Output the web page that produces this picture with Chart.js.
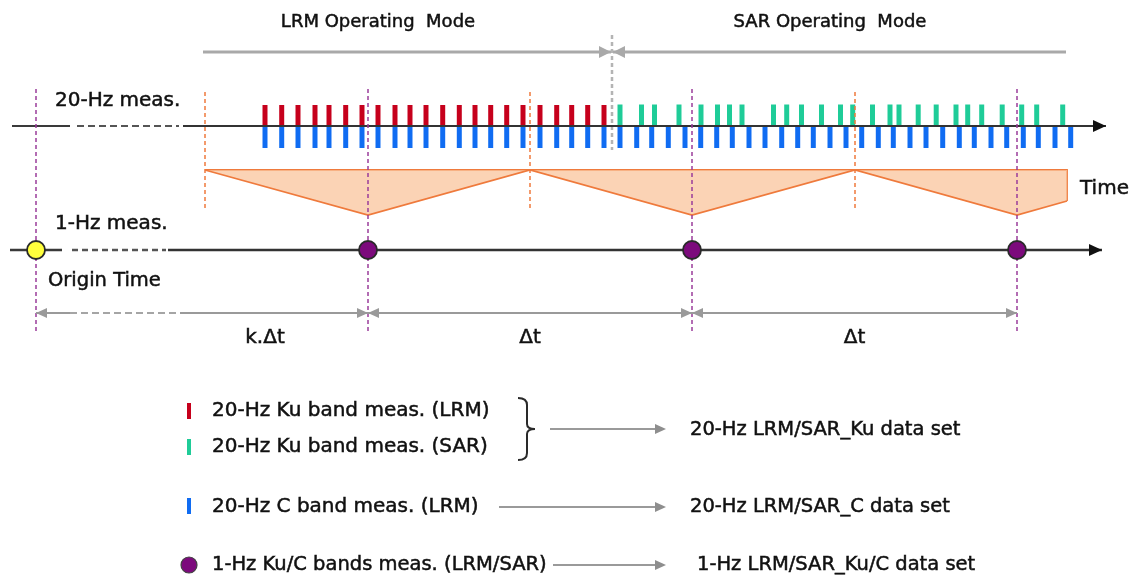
<!DOCTYPE html>
<html>
<head>
<meta charset="utf-8">
<script src="https://cdn.jsdelivr.net/npm/chart.js@4.4.1/dist/chart.umd.min.js"></script>
<style>
    html, body { margin: 0; padding: 0; background: #fff; }
    #wrap { width: 1136px; height: 579px; }
</style>
</head>
<body>
<div id="wrap"><canvas id="timeline" width="1136" height="579"></canvas></div>
<script>
// measurement times, read along the time axis of the picture
const kuLrmTimes = [265, 281.7, 298, 315, 329, 345.7, 362, 378, 395, 410, 426, 442.7, 459.3, 475, 490.7,
    506.7, 523, 540, 556.7, 571.7, 587.7, 604];
const kuSarTimes = [620, 641.5, 654.5, 679, 701, 717.5, 729.5, 742, 773.5, 786.7, 801.5, 821.5, 840.5,
    852.7, 872.5, 890, 899, 918.2, 936.2, 956, 967.7, 981.7, 1002.2, 1021.7, 1036.7, 1062.7];
const cBandTimes = [265, 281.7, 298, 315, 329, 345.7, 362, 378, 395, 410, 426, 442.7, 459.3, 475, 490.7,
    506.7, 523, 540, 556.7, 571.7, 587.7, 604, 620, 636.7, 651.7, 668.3, 685, 700.7, 716.7, 732.3, 749,
    765, 781.7, 797.7, 813.3, 830, 846, 861.7, 878.3, 893.3, 910, 926, 942.7, 959.3, 974.3, 991, 1006.7,
    1023.3, 1038.3, 1055, 1070.7];
const originTime = 36;
const oneHzTimes = [368, 692, 1017];
const windowBounds = [205, 530, 855];
const windowEnd = 1067;
const modeSwitch = 612;
const spanLabels = ["k.\u0394t", "\u0394t", "\u0394t"];
const modeLabels = ["LRM Operating  Mode", "SAR Operating  Mode"];
const legendItems = [
    "20-Hz Ku band meas. (LRM)",
    "20-Hz Ku band meas. (SAR)",
    "20-Hz C band meas. (LRM)",
    "1-Hz Ku/C bands meas. (LRM/SAR)"
];
const productLabels = ["20-Hz LRM/SAR_Ku data set", "20-Hz LRM/SAR_C data set", "1-Hz LRM/SAR_Ku/C data set"];

const FONT = '"DejaVu Sans", Verdana, sans-serif';
const RED = "#c6001c", GREEN = "#1fcc98", BLUE = "#106cf2", PURPLE = "#7c0a7c";
const ORANGE = "#ef7a3c", PEACH = "rgba(250,196,156,0.75)";

// vertical levels of the drawing (layout only)
const Y_MODE = 52, Y_20HZ = 126, Y_BAND = 170, Y_BAND_LOW = 215, Y_1HZ = 250, Y_SPAN = 313;

const pt = (x, y) => ({ x, y });

function line(points, opts) {
    return Object.assign({
        data: points,
        borderColor: "#3a3a3a",
        borderWidth: 2,
        pointRadius: 0,
        fill: false,
        tension: 0,
        order: 5
    }, opts);
}

function ticks(times, yMid, half, color) {
    return {
        data: times.map(x => pt(x, yMid)),
        showLine: false,
        pointStyle: "line",
        pointRotation: 90,
        pointRadius: half,
        pointBorderWidth: 5,
        pointBorderColor: color,
        borderColor: color,
        order: 8
    };
}

function verticals(xs, y1, y2, opts) {
    const data = [];
    xs.forEach(x => { data.push(pt(x, y1), pt(x, y2), pt(x, null)); });
    return line(data, Object.assign({ spanGaps: false }, opts));
}

// filled saw-tooth under the 20-Hz axis
const sawPoints = [pt(windowBounds[0], Y_BAND)];
oneHzTimes.forEach((t, i) => {
    sawPoints.push(pt(t, Y_BAND_LOW));
    if (windowBounds[i + 1] !== undefined) sawPoints.push(pt(windowBounds[i + 1], Y_BAND));
});
sawPoints.push(pt(windowEnd, 201));

const allOneHz = [originTime].concat(oneHzTimes);

const datasets = [
    line(sawPoints, { borderColor: ORANGE, borderWidth: 1.8, backgroundColor: PEACH, fill: { value: Y_BAND }, order: 9 }),
    line([pt(windowBounds[0], Y_BAND), pt(windowEnd, Y_BAND), pt(windowEnd, 201)], { borderColor: ORANGE, borderWidth: 1.8, order: 9 }),

    ticks(kuLrmTimes, 115.5, 10.5, RED),
    ticks(kuSarTimes, 115, 10.5, GREEN),
    ticks(cBandTimes, 137, 11, BLUE),

    // operating mode spans
    line([pt(203, Y_MODE), pt(modeSwitch - 1, Y_MODE)], { borderColor: "#a9a9a9", borderWidth: 3, arrow: { end: true, len: 12, half: 6 }, order: 7 }),
    line([pt(modeSwitch + 1, Y_MODE), pt(1066, Y_MODE)], { borderColor: "#a9a9a9", borderWidth: 3, arrow: { start: true, len: 12, half: 6 }, order: 7 }),
    verticals([modeSwitch], 35, 150, { borderColor: "#b4b4b4", borderWidth: 2.5, borderDash: [4, 3], order: 6 }),

    verticals(windowBounds, 92, 209, { borderColor: ORANGE, borderWidth: 1.5, borderDash: [4, 3], order: 6 }),
    verticals(allOneHz, 89, 331, { borderColor: "#9b3d9b", borderWidth: 1.5, borderDash: [4, 3], order: 4 }),

    // 20-Hz time axis
    line([pt(12, Y_20HZ), pt(70, Y_20HZ)]),
    line([pt(77, Y_20HZ), pt(179, Y_20HZ)], { borderDash: [7, 4], borderColor: "#555" }),
    line([pt(183, Y_20HZ), pt(1106, Y_20HZ)], { borderColor: "#333", arrow: { end: true, len: 13, half: 6, color: "#111" } }),

    // 1-Hz time axis
    line([pt(10, Y_1HZ), pt(62, Y_1HZ)], { borderWidth: 2.5 }),
    line([pt(72, Y_1HZ), pt(166, Y_1HZ)], { borderWidth: 2.5, borderDash: [6, 4], borderColor: "#555" }),
    line([pt(168, Y_1HZ), pt(1102, Y_1HZ)], { borderWidth: 2.5, borderColor: "#333", arrow: { end: true, len: 13, half: 6, color: "#111" } }),

    // spans between 1-Hz measurements
    line([pt(originTime, Y_SPAN), pt(70, Y_SPAN)], { borderColor: "#9a9a9a", arrow: { start: true, len: 11, half: 5 }, order: 3 }),
    line([pt(70, Y_SPAN), pt(180, Y_SPAN)], { borderColor: "#a5a5a5", borderDash: [7, 4], order: 3 }),
    line([pt(180, Y_SPAN), pt(oneHzTimes[0], Y_SPAN)], { borderColor: "#9a9a9a", arrow: { end: true, len: 11, half: 5 }, order: 3 }),
    line([pt(oneHzTimes[0], Y_SPAN), pt(oneHzTimes[1], Y_SPAN)], { borderColor: "#9a9a9a", arrow: { start: true, end: true, len: 11, half: 5 }, order: 3 }),
    line([pt(oneHzTimes[1], Y_SPAN), pt(oneHzTimes[2], Y_SPAN)], { borderColor: "#9a9a9a", arrow: { start: true, end: true, len: 11, half: 5 }, order: 3 }),

    // 1-Hz measurements
    {
        data: allOneHz.map(x => pt(x, Y_1HZ)),
        showLine: false,
        pointRadius: 9,
        pointBorderWidth: 1.8,
        pointBorderColor: "#2a2a2a",
        pointBackgroundColor: allOneHz.map((x, i) => i === 0 ? "#ffff3c" : PURPLE),
        order: 1
    }
];

function arrowHead(ctx, tip, from, len, half, color) {
    const dx = tip.x - from.x, dy = tip.y - from.y;
    const d = Math.hypot(dx, dy) || 1;
    const ux = dx / d, uy = dy / d;
    const bx = tip.x - ux * len, by = tip.y - uy * len;
    ctx.fillStyle = color;
    ctx.beginPath();
    ctx.moveTo(tip.x, tip.y);
    ctx.lineTo(bx - uy * half, by + ux * half);
    ctx.lineTo(bx + uy * half, by - ux * half);
    ctx.closePath();
    ctx.fill();
}

const arrowPlugin = {
    id: "arrows",
    afterDatasetsDraw(chart) {
        const ctx = chart.ctx;
        chart.data.datasets.forEach((ds, i) => {
            if (!ds.arrow) return;
            const pts = chart.getDatasetMeta(i).data;
            const a = ds.arrow, color = a.color || ds.borderColor;
            ctx.save();
            if (a.end) arrowHead(ctx, pts[pts.length - 1], pts[pts.length - 2], a.len, a.half, color);
            if (a.start) arrowHead(ctx, pts[0], pts[1], a.len, a.half, color);
            ctx.restore();
        });
    }
};

const labelPlugin = {
    id: "labels",
    afterDraw(chart) {
        const ctx = chart.ctx;
        const sx = v => chart.scales.x.getPixelForValue(v);
        const sy = v => chart.scales.y.getPixelForValue(v);
        const text = (s, x, y, align, size) => {
            ctx.font = `${size || 20}px ${FONT}`;
            ctx.textAlign = align || "left";
            ctx.textBaseline = "middle";
            ctx.fillStyle = "#111";
            ctx.strokeStyle = "#111";
            ctx.lineWidth = 0.5;
            ctx.fillText(s, sx(x), sy(y));
            ctx.strokeText(s, sx(x), sy(y));
        };
        const arrow = (x1, x2, y) => {
            ctx.strokeStyle = "#9a9a9a";
            ctx.lineWidth = 2;
            ctx.beginPath();
            ctx.moveTo(sx(x1), sy(y));
            ctx.lineTo(sx(x2) - 6, sy(y));
            ctx.stroke();
            arrowHead(ctx, { x: sx(x2), y: sy(y) }, { x: sx(x1), y: sy(y) }, 11, 5, "#8e8e8e");
        };
        const mark = (x, y, color) => {
            ctx.strokeStyle = color;
            ctx.lineWidth = 4;
            ctx.beginPath();
            ctx.moveTo(sx(x), sy(y - 8));
            ctx.lineTo(sx(x), sy(y + 8));
            ctx.stroke();
        };

        ctx.save();
        text(modeLabels[0], 378, 22, "center", 18);
        text(modeLabels[1], 830, 22, "center", 18);
        text("20-Hz meas.", 55, 101);
        text("Time", 1080, 189);
        text("1-Hz meas.", 55, 224);
        text("Origin Time", 48, 281, "left", 19.5);
        const spanEnds = [originTime].concat(oneHzTimes);
        spanLabels.forEach((s, i) => text(s, (spanEnds[i] + spanEnds[i + 1]) / 2 + (i === 0 ? 63 : 0), 338, "center"));

        // legend
        mark(189, 411, RED);
        mark(189, 447, GREEN);
        mark(189, 506, BLUE);
        ctx.fillStyle = PURPLE;
        ctx.strokeStyle = "#444";
        ctx.lineWidth = 1.2;
        ctx.beginPath();
        ctx.arc(sx(189), sy(565), 8, 0, Math.PI * 2);
        ctx.fill();
        ctx.stroke();

        text(legendItems[0], 212, 411);
        text(legendItems[1], 212, 447);
        text(legendItems[2], 212, 507);
        text(legendItems[3], 212, 565, "left", 19.5);

        // brace grouping the two Ku lines
        ctx.strokeStyle = "#2a2a2a";
        ctx.lineWidth = 2;
        ctx.beginPath();
        ctx.moveTo(sx(518), sy(398));
        ctx.quadraticCurveTo(sx(527), sy(398), sx(527), sy(405));
        ctx.lineTo(sx(527), sy(424));
        ctx.quadraticCurveTo(sx(527), sy(429), sx(535), sy(429));
        ctx.quadraticCurveTo(sx(527), sy(429), sx(527), sy(434));
        ctx.lineTo(sx(527), sy(453));
        ctx.quadraticCurveTo(sx(527), sy(460), sx(518), sy(460));
        ctx.stroke();

        arrow(550, 666, 429);
        arrow(499, 666, 507);
        arrow(553, 666, 565);

        text(productLabels[0], 690, 430, "left", 19.5);
        text(productLabels[1], 690, 507, "left", 19.5);
        text(productLabels[2], 697, 565, "left", 19.5);
        ctx.restore();
    }
};

new Chart(document.getElementById("timeline").getContext("2d"), {
    type: "line",
    data: { datasets },
    options: {
        responsive: false,
        animation: false,
        events: [],
        layout: { padding: 0, autoPadding: false },
        plugins: { legend: { display: false }, tooltip: { enabled: false } },
        scales: {
            x: { type: "linear", min: 0, max: 1136, display: false },
            y: { type: "linear", min: 0, max: 579, reverse: true, display: false }
        }
    },
    plugins: [arrowPlugin, labelPlugin]
});
</script>
</body>
</html>
